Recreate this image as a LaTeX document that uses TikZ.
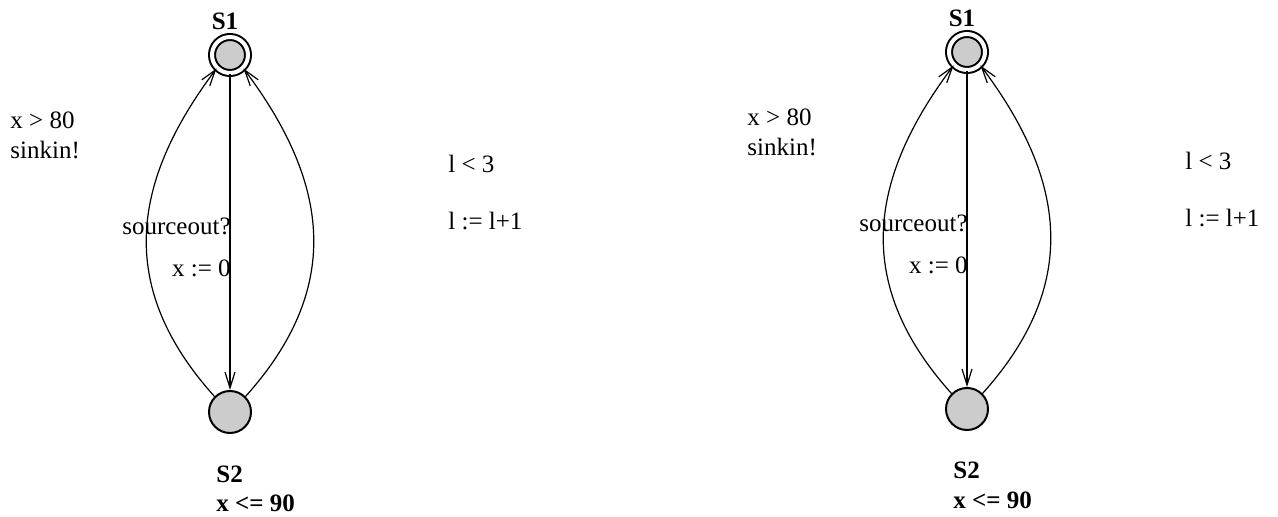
\documentclass[tikz,border=0pt]{standalone}
\usepackage{fontspec}
\setmainfont{Liberation Serif}
\usetikzlibrary{arrows.meta,positioning}

\tikzset{
  loc/.style={circle, draw, line width=1pt, fill=gray!40, minimum size=21pt, inner sep=0pt},
  initloc/.style={circle, draw, double, line width=1pt, double distance=2pt, fill=gray!40, minimum size=18pt, inner sep=0pt},
  txt/.style={inner sep=0pt, font=\fontsize{12.5}{15}\selectfont},
  bftxt/.style={txt, font=\fontsize{12.5}{15}\selectfont\bfseries},
  trans/.style={line width=0.6pt, -{Straight Barb[length=8pt,width=5pt]}}
}

\begin{document}
\begin{tikzpicture}[x=0.5pt, y=-0.5pt]
\useasboundingbox (0,0) rectangle (1278,517);
% two copies of the same automaton
\foreach \dx/\dy/\k in {0/0/a, 737/-3/b}{
  \begin{scope}[shift={(\dx,\dy)}]
    \node[initloc] (s1\k) at (230,55) {};
    \node[loc] (s2\k) at (230,412) {};
    \node[bftxt] (s1name\k) at (225,21) {S1};
    \node[bftxt, anchor=base west] (s2name\k) at (216,482) {S2};
    \node[bftxt, anchor=base west] (s2inv\k) at (216,511) {x <= 90};
    % transitions
    \draw[trans] (s1\k) -- (s2\k);
    \draw[trans] (s2\k.135) .. controls +(-97,-108) and +(-87,116) .. (s1\k.225);
    \draw[trans] (s2\k.45) .. controls +(97,-108) and +(87,116) .. (s1\k.-45);
    % labels
    \node[txt, anchor=base west] (grd\k) at (10,129) {x > 80};
    \node[txt, anchor=base west] (snd\k) at (10,159) {sinkin!};
    \node[txt, anchor=base east] (rcv\k) at (231,235) {sourceout?};
    \node[txt, anchor=base east] (rst\k) at (231,277) {x := 0};
    \node[txt, anchor=base west] (cnt\k) at (448,173) {l < 3};
    \node[txt, anchor=base west] (inc\k) at (448,230) {l := l+1};
  \end{scope}
}
\end{tikzpicture}
\end{document}
